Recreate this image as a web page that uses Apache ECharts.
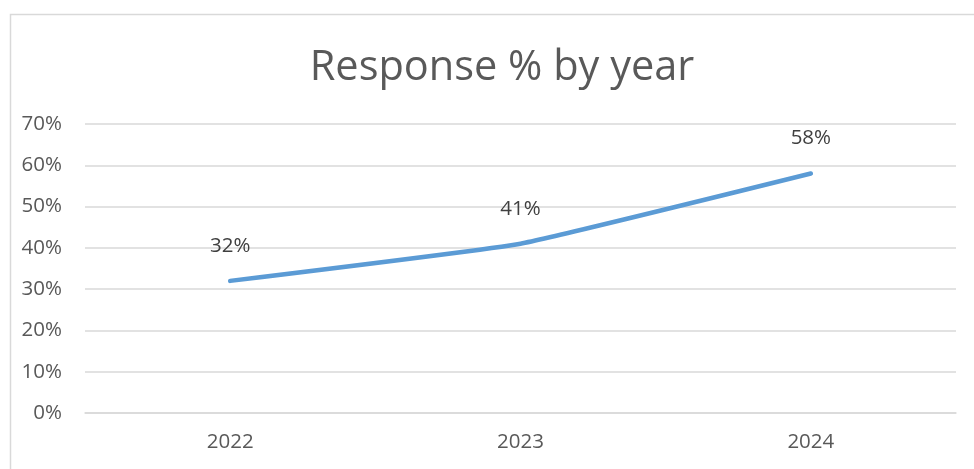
<!DOCTYPE html>
<html><head><meta charset="utf-8">
<script src="https://cdn.jsdelivr.net/npm/echarts@6/dist/echarts.min.js"></script>
<style>html,body{margin:0;padding:0;background:#fff}#c{width:974px;height:469px}</style>
</head><body><div id="c"></div>
<script>
const categories = ['2022', '2023', '2024'];
const responseRate = [0.32, 0.41, 0.58];
const yTicks = [0, 0.1, 0.2, 0.3, 0.4, 0.5, 0.6, 0.7];

const chart = echarts.init(document.getElementById('c'));
const font = '"Open Sans", sans-serif';
chart.setOption({
  animation: false,
  graphic: [{
    type: 'rect', left: 8, top: 12, shape: { width: 1000, height: 500 },
    style: { fill: 'none', stroke: '#d9d9d9', lineWidth: 1.5 }, z: -1
  }],
  title: {
    text: 'Response % by year', left: 497, top: 42, textAlign: 'center',
    textStyle: { fontFamily: font, fontSize: 41.5, fontWeight: 'normal', color: '#595959' }
  },
  grid: { left: 85, right: 18, top: 124, bottom: 56 },
  xAxis: {
    type: 'category', data: categories, boundaryGap: true,
    axisLine: { lineStyle: { color: '#d9d9d9', width: 1.5 } },
    axisTick: { show: false },
    axisLabel: { fontFamily: font, fontSize: 20.5, color: '#595959', margin: 19 }
  },
  yAxis: {
    type: 'value', min: yTicks[0], max: yTicks[yTicks.length - 1], interval: 0.1,
    axisLine: { show: false }, axisTick: { show: false },
    splitLine: { lineStyle: { color: '#d9d9d9', width: 1.5 } },
    axisLabel: {
      fontFamily: font, fontSize: 20.5, color: '#595959', margin: 23,
      formatter: v => Math.round(v * 100) + '%'
    }
  },
  series: [{
    type: 'line', data: responseRate, smooth: 0.1,
    showSymbol: true, symbol: 'circle', symbolSize: 1,
    itemStyle: { color: 'rgba(0,0,0,0)', borderWidth: 0 },
    lineStyle: { color: '#5B9BD5', width: 4.5, cap: 'round', join: 'round' },
    label: {
      show: true, position: 'top', distance: 24,
      fontFamily: font, fontSize: 20.5, color: '#404040',
      formatter: p => Math.round(p.value * 100) + '%'
    }
  }]
});
</script></body></html>
